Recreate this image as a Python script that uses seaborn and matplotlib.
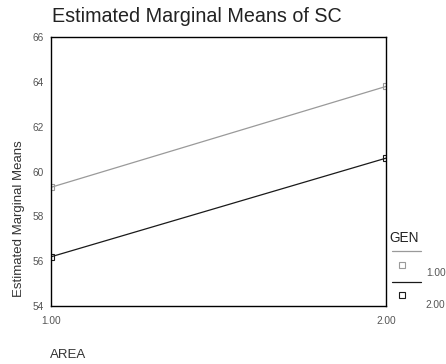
import pandas as pd
import seaborn as sns
import matplotlib.pyplot as plt
from matplotlib.lines import Line2D

area = [1.00, 2.00]
gen_levels = ['1.00', '2.00']
means_gen1 = [59.3, 63.8]
means_gen2 = [56.2, 60.6]
y_ticks = [54, 56, 58, 60, 62, 64, 66]

df = pd.DataFrame({
    'AREA': area * 2,
    'mean': means_gen1 + means_gen2,
    'GEN': [gen_levels[0]] * 2 + [gen_levels[1]] * 2,
})

sns.set_style('white')
plt.rcParams['font.family'] = ['Liberation Sans', 'DejaVu Sans']

fig = plt.figure(figsize=(4.46, 3.64), dpi=100)
ax = fig.add_axes([0.1143, 0.159, 0.751, 0.739])

colors = {'1.00': '#9a9a9a', '2.00': '#1a1a1a'}
sns.lineplot(data=df, x='AREA', y='mean', hue='GEN', palette=colors,
             marker='s', markersize=4, markerfacecolor='none',
             markeredgewidth=0.8, linewidth=0.9, legend=False, ax=ax)
for line, gen in zip(ax.lines, gen_levels):
    line.set_markeredgecolor(colors[gen])

ax.set_xlim(1, 2)
ax.set_ylim(54, 66)
ax.set_xticks(area)
ax.set_xticklabels(['%.2f' % a for a in area])
ax.set_yticks(y_ticks)
ax.tick_params(axis='both', labelsize=7.3, colors='black', length=3,
               width=0.8, direction='out')
ax.tick_params(axis='x', pad=4)
ax.tick_params(axis='y', pad=2)
for lab in ax.get_xticklabels() + ax.get_yticklabels():
    lab.set_color('#555555')
for sp in ax.spines.values():
    sp.set_color('black')
    sp.set_linewidth(1.0)
ax.set_xlabel('')
ax.set_ylabel('')

fig.text(0.117, 0.955, 'Estimated Marginal Means of SC', fontsize=14.2,
         color='#222222', va='center', ha='left')
fig.text(0.043, 0.40, 'Estimated Marginal Means', fontsize=9.5, color='#333333',
         rotation=90, ha='center', va='center')
fig.text(0.113, 0.025, 'AREA', fontsize=9.5, color='#333333', ha='left', va='center')

# legend
fig.text(0.873, 0.346, 'GEN', fontsize=9.8, color='#222222', ha='left', va='center')
legend_y = [(0.310, 0.272, 0.25), (0.224, 0.189, 0.162)]
for gen, (ly, my, ty) in zip(gen_levels, legend_y):
    fig.add_artist(Line2D([0.879, 0.944], [ly, ly], color=colors[gen], lw=0.9))
    fig.add_artist(Line2D([0.902], [my], marker='s', markersize=4,
                          markerfacecolor='none', markeredgecolor=colors[gen],
                          markeredgewidth=0.8, linestyle='none'))
    fig.text(0.955, ty, gen, fontsize=7.3, color='#555555', ha='left', va='center')

plt.savefig('out.png', dpi=100)
